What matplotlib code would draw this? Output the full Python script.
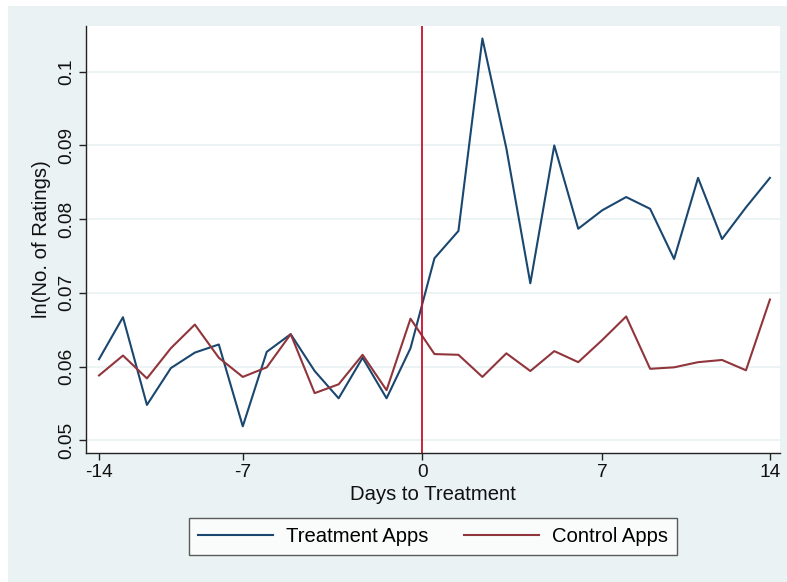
import matplotlib
matplotlib.use("Agg")
import matplotlib.pyplot as plt
from matplotlib.patches import Rectangle

plt.rcParams["font.family"] = ["Liberation Sans", "DejaVu Sans"]

# Period index (1..29) and the day labels shown on the axis
periods = list(range(1, 30))
tick_positions = [1, 7, 14.5, 22, 29]
tick_labels = ["-14", "-7", "0", "7", "14"]
treatment_start = 14.5

treatment = [0.0610, 0.0667, 0.0548, 0.0598, 0.0619, 0.0630, 0.0519, 0.0620,
             0.0644, 0.0594, 0.0557, 0.0612, 0.0557, 0.0625, 0.0747, 0.0784,
             0.1045, 0.0896, 0.0713, 0.0900, 0.0787, 0.0812, 0.0830, 0.0814,
             0.0746, 0.0856, 0.0773, 0.0816, 0.0856]
control = [0.0588, 0.0615, 0.0584, 0.0625, 0.0657, 0.0612, 0.0586, 0.0599,
           0.0644, 0.0564, 0.0576, 0.0616, 0.0568, 0.0665, 0.0617, 0.0616,
           0.0586, 0.0618, 0.0594, 0.0621, 0.0606, 0.0636, 0.0668, 0.0597,
           0.0599, 0.0606, 0.0609, 0.0595, 0.0691]
y_ticks = [0.05, 0.06, 0.07, 0.08, 0.09, 0.1]
y_tick_labels = ["0.05", "0.06", "0.07", "0.08", "0.09", "0.1"]

W, H = 787, 582
fig = plt.figure(figsize=(W / 100, H / 100), dpi=100, facecolor="white")
bg = "#EAF2F3"
fig.patches.append(Rectangle((8 / W, 0), (W - 8) / W, (H - 6) / H,
                             transform=fig.transFigure, facecolor=bg,
                             edgecolor="none", zorder=-10))

ax = fig.add_axes([86 / W, (H - 453) / H, (780 - 86) / W, (453 - 26) / H])
ax.set_facecolor("white")

navy = "#1A476F"
maroon = "#90353B"
ax.plot(periods, treatment, color=navy, lw=1.5, label="Treatment Apps", zorder=3)
ax.plot(periods, control, color=maroon, lw=1.5, label="Control Apps", zorder=3)
ax.axvline(treatment_start, color="#C8102E", lw=1.3, zorder=4)

ax.set_xlim(0.457, 29.42)
ax.set_ylim(0.04828, 0.1062)

ax.set_yticks(y_ticks)
ax.set_yticklabels(y_tick_labels, rotation=90, va="center")
ax.set_xticks(tick_positions)
ax.set_xticklabels(tick_labels)
ax.grid(axis="y", color=bg, lw=1.3, zorder=0)
ax.set_axisbelow(True)

for side in ("top", "right"):
    ax.spines[side].set_visible(False)
for side in ("left", "bottom"):
    ax.spines[side].set_color("#222222")
    ax.spines[side].set_linewidth(1.0)

ax.tick_params(axis="both", direction="out", length=5, width=1.0,
               color="#222222", labelsize=13.8, labelcolor="#111111", pad=3)

ax.set_xlabel("Days to Treatment", fontsize=14.6, color="#111111", labelpad=3)
ax.set_ylabel("ln(No. of Ratings)", fontsize=14.6, color="#111111", labelpad=5)

leg = fig.legend(loc="center", bbox_to_anchor=(433 / W, 1 - 536.5 / H),
                 ncol=2, fontsize=14.6, frameon=True, fancybox=False,
                 handlelength=3.7, handletextpad=0.65, columnspacing=1.75,
                 borderpad=0.45)
leg.get_frame().set_edgecolor("#333333")
leg.get_frame().set_linewidth(1.0)
leg.get_frame().set_facecolor("white")
for line in leg.get_lines():
    line.set_linewidth(1.5)

fig.savefig("out.png", dpi=100, facecolor="white")
